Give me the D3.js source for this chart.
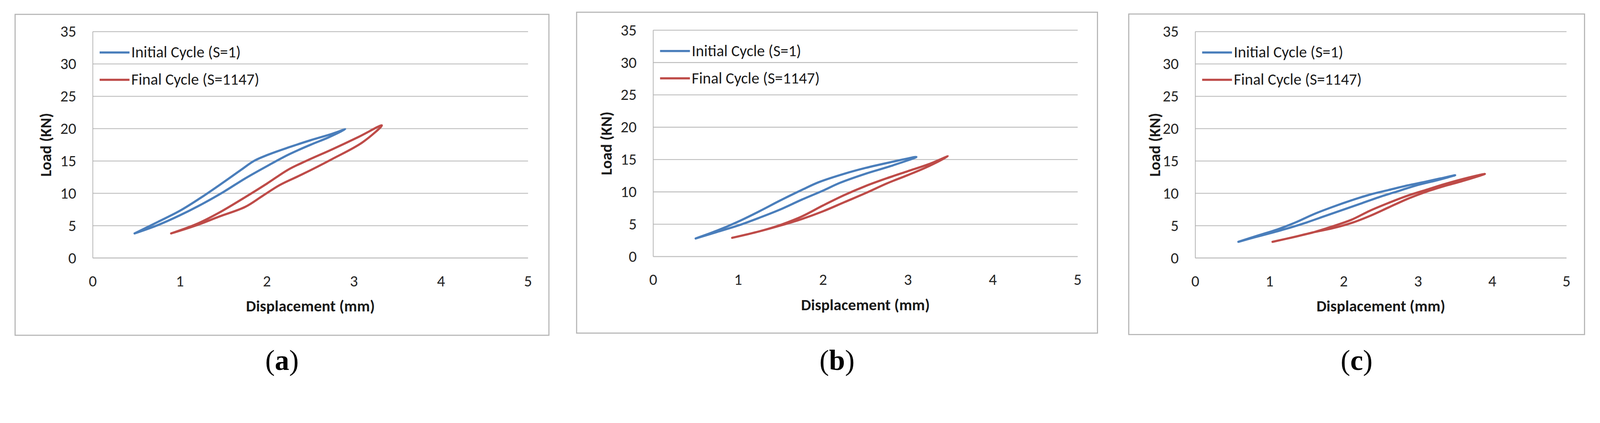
<!DOCTYPE html>
<html>
<head>
<meta charset="utf-8">
<script src="https://cdn.jsdelivr.net/npm/d3@7"></script>
<style>
  html, body { margin: 0; padding: 0; background: #fff; overflow: hidden; }
  svg { display: block; width: 100vw; height: auto; }
  .tick-label { font-family: Carlito, Calibri, "Liberation Sans Narrow", "Arial Narrow", "Liberation Sans", sans-serif; font-size: 44px; fill: #262626; }
  .axis-title { font-family: Carlito, Calibri, "Liberation Sans Narrow", "Arial Narrow", "Liberation Sans", sans-serif; font-size: 44px; font-weight: bold; fill: #1a1a1a; }
  .legend-label { font-family: Carlito, Calibri, "Liberation Sans Narrow", "Arial Narrow", "Liberation Sans", sans-serif; font-size: 44px; fill: #1a1a1a; }
  .caption { font-family: "Liberation Serif", "DejaVu Serif", serif; font-size: 80px; fill: #000; }
</style>
</head>
<body>
<svg id="chart"></svg>
<script>
// tick values (same for all three panels)
const xTicks = [0, 1, 2, 3, 4, 5];
const yTicks = [0, 5, 10, 15, 20, 25, 30, 35];
const seriesNames = ['Initial Cycle (S=1)', 'Final Cycle (S=1147)'];
const captions = ['a', 'b', 'c'];

// load-displacement loops: [displacement (mm), load (kN)]
// each loop goes up the loading branch and back down the unloading branch
const initialA = [
    [0.48, 3.8], [0.75, 5.6], [1.0, 7.3], [1.25, 9.4], [1.5, 11.7], [1.7, 13.6],
    [1.85, 15.0], [2.0, 15.9], [2.25, 17.1], [2.5, 18.2], [2.75, 19.2], [2.9, 19.9],
    [2.7, 18.6], [2.5, 17.5], [2.25, 16.0], [2.0, 14.2], [1.75, 12.3], [1.5, 10.2],
    [1.25, 8.3], [1.0, 6.6], [0.75, 5.1], [0.48, 3.8]
];
const finalA = [
    [0.9, 3.8], [1.2, 5.3], [1.45, 7.0], [1.75, 9.4], [2.0, 11.5], [2.25, 13.7],
    [2.45, 15.0], [2.75, 16.8], [3.05, 18.7], [3.32, 20.5],
    [3.1, 17.9], [2.75, 15.3], [2.4, 12.9], [2.15, 11.3], [1.95, 9.6], [1.75, 7.9],
    [1.45, 6.4], [1.2, 5.1], [0.9, 3.8]
];
const initialB = [
    [0.5, 2.8], [0.75, 4.0], [1.0, 5.4], [1.25, 7.0], [1.5, 8.7], [1.75, 10.3],
    [1.95, 11.5], [2.25, 12.8], [2.5, 13.7], [2.8, 14.6], [3.1, 15.4],
    [2.8, 14.0], [2.5, 12.8], [2.2, 11.4], [2.0, 10.2], [1.75, 8.8], [1.5, 7.3],
    [1.25, 6.0], [1.0, 4.8], [0.75, 3.8], [0.5, 2.8]
];
const finalB = [
    [0.93, 2.9], [1.25, 3.9], [1.5, 4.9], [1.75, 6.2], [2.0, 7.9], [2.25, 9.5],
    [2.5, 10.9], [2.75, 12.1], [3.0, 13.2], [3.25, 14.3], [3.47, 15.5],
    [3.25, 14.0], [3.0, 12.6], [2.75, 11.3], [2.5, 9.8], [2.25, 8.4], [2.0, 7.0],
    [1.75, 5.8], [1.5, 4.8], [1.25, 3.9], [0.93, 2.9]
];
const initialC = [
    [0.58, 2.5], [0.85, 3.5], [1.1, 4.4], [1.35, 5.5], [1.6, 6.8], [1.85, 7.9],
    [2.1, 8.9], [2.35, 9.8], [2.6, 10.5], [2.85, 11.2], [3.1, 11.8], [3.3, 12.3], [3.5, 12.8],
    [3.25, 12.0], [3.0, 11.3], [2.75, 10.4], [2.5, 9.5], [2.25, 8.5], [2.0, 7.5],
    [1.75, 6.5], [1.5, 5.5], [1.25, 4.6], [1.0, 3.8], [0.8, 3.2], [0.58, 2.5]
];
const finalC = [
    [1.04, 2.5], [1.35, 3.3], [1.6, 4.0], [1.85, 4.9], [2.1, 5.9], [2.35, 7.3],
    [2.6, 8.5], [2.85, 9.6], [3.1, 10.5], [3.35, 11.4], [3.6, 12.2], [3.9, 13.0],
    [3.6, 11.9], [3.35, 11.1], [3.1, 10.2], [2.85, 9.1], [2.6, 7.8], [2.35, 6.5],
    [2.1, 5.4], [1.85, 4.6], [1.6, 4.0], [1.35, 3.3], [1.04, 2.5]
];

const width = 4448;
const height = 1084;
const colors = ['#4a7ebb', '#be4b48'];

// frame and plot area of each panel, in page pixels
const panels = [
    { box: [42, 40, 1526, 933], plot: [258, 88, 1468, 718], loadDx: 131, loops: [initialA, finalA] },
    { box: [1603, 34, 3051, 927], plot: [1816, 84, 2996, 714], loadDx: 131, loops: [initialB, finalB] },
    { box: [3138, 39, 4405, 931], plot: [3323, 88, 4355, 718], loadDx: 113, loops: [initialC, finalC] }
];

// the svg scales with the viewport width; height follows the viewBox ratio
const svg = d3.select('#chart')
    .attr('viewBox', `0 0 ${width} ${height}`)
    .attr('preserveAspectRatio', 'xMinYMin meet');

svg.append('rect')
    .attr('width', width)
    .attr('height', height)
    .attr('fill', '#fff');

const line = d3.line()
    .x(d => d[0])
    .y(d => d[1])
    .curve(d3.curveCatmullRom.alpha(0.5));

panels.forEach((p, i) => {
    const [bx0, by0, bx1, by1] = p.box;
    const [px0, py0, px1, py1] = p.plot;
    const g = svg.append('g');

    // panel frame
    g.append('rect')
        .attr('x', bx0).attr('y', by0)
        .attr('width', bx1 - bx0).attr('height', by1 - by0)
        .attr('fill', 'none')
        .attr('stroke', '#b4b4b4')
        .attr('stroke-width', 3);

    const xScale = d3.scaleLinear().domain([0, 5]).range([px0, px1]);
    const yScale = d3.scaleLinear().domain([0, 35]).range([py1, py0]);

    // horizontal gridlines
    g.append('g')
        .selectAll('line')
        .data(yTicks)
        .join('line')
        .attr('x1', px0).attr('x2', px1)
        .attr('y1', d => yScale(d)).attr('y2', d => yScale(d))
        .attr('stroke', d => d === 0 ? '#c8c8c8' : '#bebebe')
        .attr('stroke-width', d => d === 0 ? 3.5 : 2.5);

    // y axis line
    g.append('line')
        .attr('x1', px0).attr('x2', px0)
        .attr('y1', py0).attr('y2', py1)
        .attr('stroke', '#b0b0b0')
        .attr('stroke-width', 2);

    // tick labels
    g.append('g')
        .selectAll('text')
        .data(yTicks)
        .join('text')
        .attr('class', 'tick-label')
        .attr('x', px0 - 46)
        .attr('y', d => yScale(d) + 14.5)
        .attr('text-anchor', 'end')
        .text(d => d);

    g.append('g')
        .selectAll('text')
        .data(xTicks)
        .join('text')
        .attr('class', 'tick-label')
        .attr('x', d => xScale(d))
        .attr('y', py1 + 79)
        .attr('text-anchor', 'middle')
        .text(d => d);

    // axis titles
    g.append('text')
        .attr('class', 'axis-title')
        .attr('x', (px0 + px1) / 2)
        .attr('y', py1 + 149)
        .attr('text-anchor', 'middle')
        .text('Displacement (mm)');

    g.append('text')
        .attr('class', 'axis-title')
        .attr('transform', `translate(${px0 - p.loadDx}, ${(py0 + py1) / 2}) rotate(-90)`)
        .attr('text-anchor', 'middle')
        .attr('dominant-baseline', 'central')
        .text('Load (KN)');

    // hysteresis loops
    g.append('g')
        .selectAll('path')
        .data(p.loops)
        .join('path')
        .attr('d', d => line(d.map(pt => [xScale(pt[0]), yScale(pt[1])])))
        .attr('fill', 'none')
        .attr('stroke', (d, k) => colors[k])
        .attr('stroke-width', 6)
        .attr('stroke-linejoin', 'round')
        .attr('stroke-linecap', 'round');

    // legend
    const legend = g.append('g')
        .selectAll('g')
        .data(seriesNames)
        .join('g')
        .attr('transform', (d, k) => `translate(${px0 + 19}, ${py0 + 58 + k * 76})`);

    legend.append('line')
        .attr('x1', 0).attr('x2', 83)
        .attr('y1', 0).attr('y2', 0)
        .attr('stroke', (d, k) => colors[k])
        .attr('stroke-width', 6);

    legend.append('text')
        .attr('class', 'legend-label')
        .attr('x', 88)
        .attr('y', 14)
        .text(d => d);

    // caption below the frame
    const cap = svg.append('text')
        .attr('class', 'caption')
        .attr('x', (bx0 + bx1) / 2)
        .attr('y', 1030)
        .attr('text-anchor', 'middle');
    cap.append('tspan').text('(');
    cap.append('tspan').attr('font-weight', 'bold').text(captions[i]);
    cap.append('tspan').text(')');
});
</script>
</body>
</html>
